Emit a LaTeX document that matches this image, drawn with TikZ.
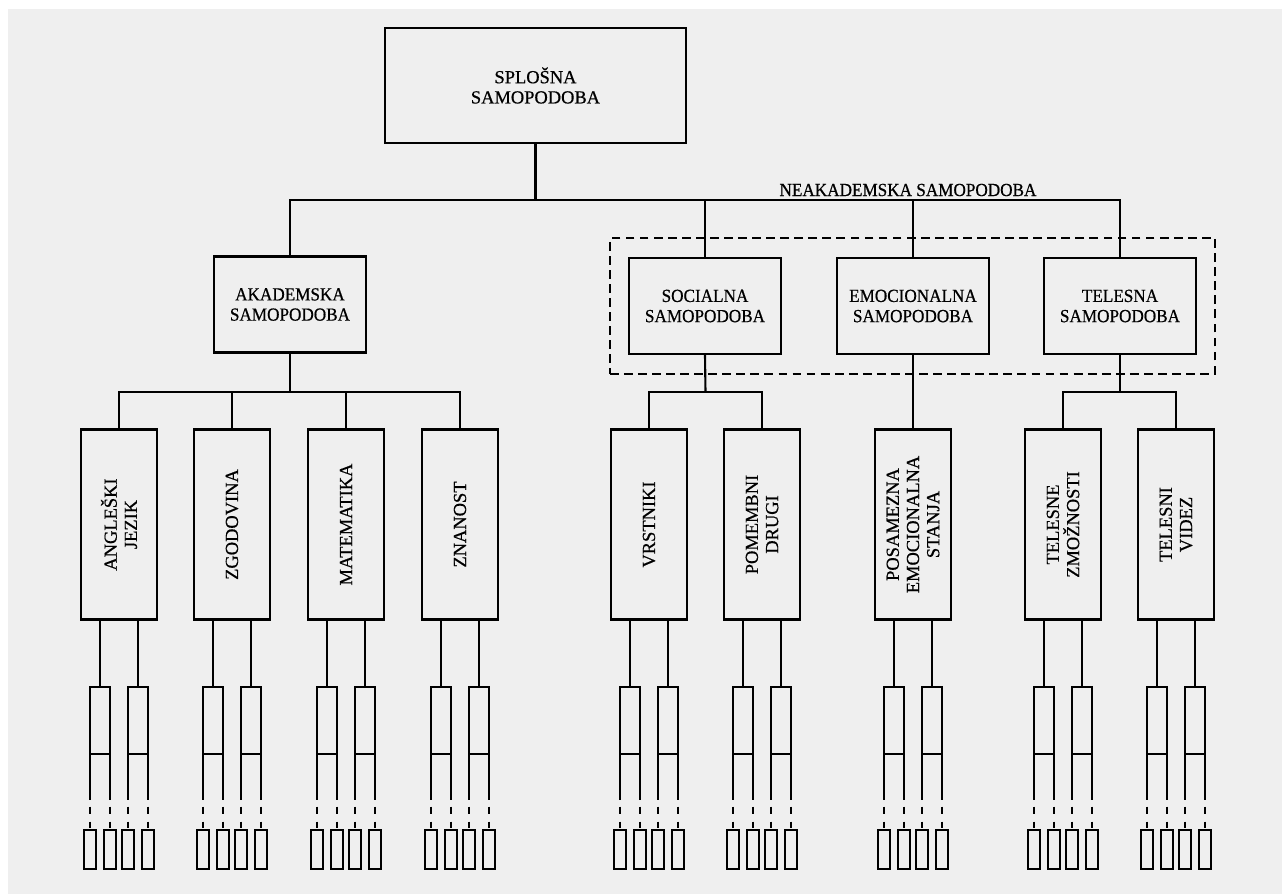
\documentclass[tikz,border=0pt]{standalone}
\usepackage{fontspec}
\setmainfont[FakeBold=0.6]{Liberation Serif}
\newfontfamily\narrowfont[FakeStretch=0.93,FakeBold=0.6]{Liberation Serif}
\usetikzlibrary{fit}
\definecolor{paper}{HTML}{EFEFEF}
\tikzset{
  lbl/.style={font=\fontsize{10.5}{11.5}\selectfont, align=center, inner sep=1pt},
  nlbl/.style={font=\narrowfont\fontsize{10.5}{11.5}\selectfont, align=center, inner sep=1pt},
  topbox/.style={draw, lbl, line width=1.3pt, minimum width=6.02cm, minimum height=2.3cm},
  midbox/.style={draw, nlbl, line width=1.3pt, minimum width=3.04cm, minimum height=1.92cm},
  leafbox/.style={draw, lbl, line width=1.3pt, rotate=90, minimum width=3.8cm, minimum height=1.52cm},
}
\begin{document}
\begin{tikzpicture}[x=0.02cm, y=-0.02cm, line width=1.2pt]
  \useasboundingbox (0,0) rectangle (1282,894);
  \fill[paper] (8,9) rectangle (1282,894);
  % top and second level
  \node[topbox] (spl) at (535.5,85.5) {SPLOŠNA\\SAMOPODOBA};
  \node[midbox] (aka) at (290,304.5) {AKADEMSKA\\SAMOPODOBA};
  \node[midbox] (soc) at (705,306) {SOCIALNA\\SAMOPODOBA};
  \node[midbox] (emo) at (913,306) {EMOCIONALNA\\SAMOPODOBA};
  \node[midbox] (tel) at (1120,306) {TELESNA\\SAMOPODOBA};
  \node[draw, line width=1.1pt, dash pattern=on 5pt off 3pt, inner xsep=0.36cm, inner ysep=0.37cm, fit=(soc)(tel)] (neak) {};
  \node[nlbl, anchor=south] (neaklbl) at (908,199) {NEAKADEMSKA SAMOPODOBA};
  \coordinate (b1) at (535.5,200);
  \draw (spl.south) -- (b1);
  \draw (aka.north) |- (b1) -| (tel.north);
  \draw (soc.north) -- (soc.north |- b1);
  \draw (emo.north) -- (emo.north |- b1);
  % third level
  \node[leafbox] (ang) at (119,524.5) {ANGLEŠKI\\JEZIK};
  \node[leafbox] (zgo) at (232,524.5) {ZGODOVINA};
  \node[leafbox] (mat) at (346,524.5) {MATEMATIKA};
  \node[leafbox] (zna) at (460,524.5) {ZNANOST};
  \node[leafbox] (vrs) at (649,524.5) {VRSTNIKI};
  \node[leafbox] (pom) at (762,524.5) {POMEMBNI\\DRUGI};
  \node[leafbox] (pos) at (913,524.5) {POSAMEZNA\\EMOCIONALNA\\STANJA};
  \node[leafbox] (tzm) at (1063,524.5) {TELESNE\\ZMOŽNOSTI};
  \node[leafbox] (tvi) at (1176,524.5) {TELESNI\\VIDEZ};
  \coordinate (b2) at (290,392);
  \coordinate (b3) at (705.5,392);
  \coordinate (b4) at (1120,392);
  \draw (aka.south) -- (b2);
  \draw (ang.east) |- (b2) -| (zna.east);
  \draw (zgo.east) -- (zgo.east |- b2);
  \draw (mat.east) -- (mat.east |- b2);
  \draw (soc.south) -- (b3);
  \draw (vrs.east) |- (b3) -| (pom.east);
  \draw (emo.south) -- (pos.east);
  \draw (tel.south) -- (b4);
  \draw (tzm.east) |- (b4) -| (tvi.east);
  % items under each box
  \foreach \n in {ang,zgo,mat,zna,vrs,pom,pos,tzm,tvi}{
    \foreach \s in {-19,19}{
      \draw (\n.west) ++(\s,0) -- ++(0,66) ++(-10,0) rectangle ++(20,67)
            ++(-20,0) -- ++(0,46) ++(20,0) -- ++(0,-46);
      \foreach \d in {-10,10}{
        \draw (\n.west) ++(\s+\d,186) -- ++(0,7) ++(0,8) -- ++(0,6);
        \draw (\n.west) ++(\s+\d-6,209) rectangle ++(12,39);
      }
    }
  }
\end{tikzpicture}
\end{document}
